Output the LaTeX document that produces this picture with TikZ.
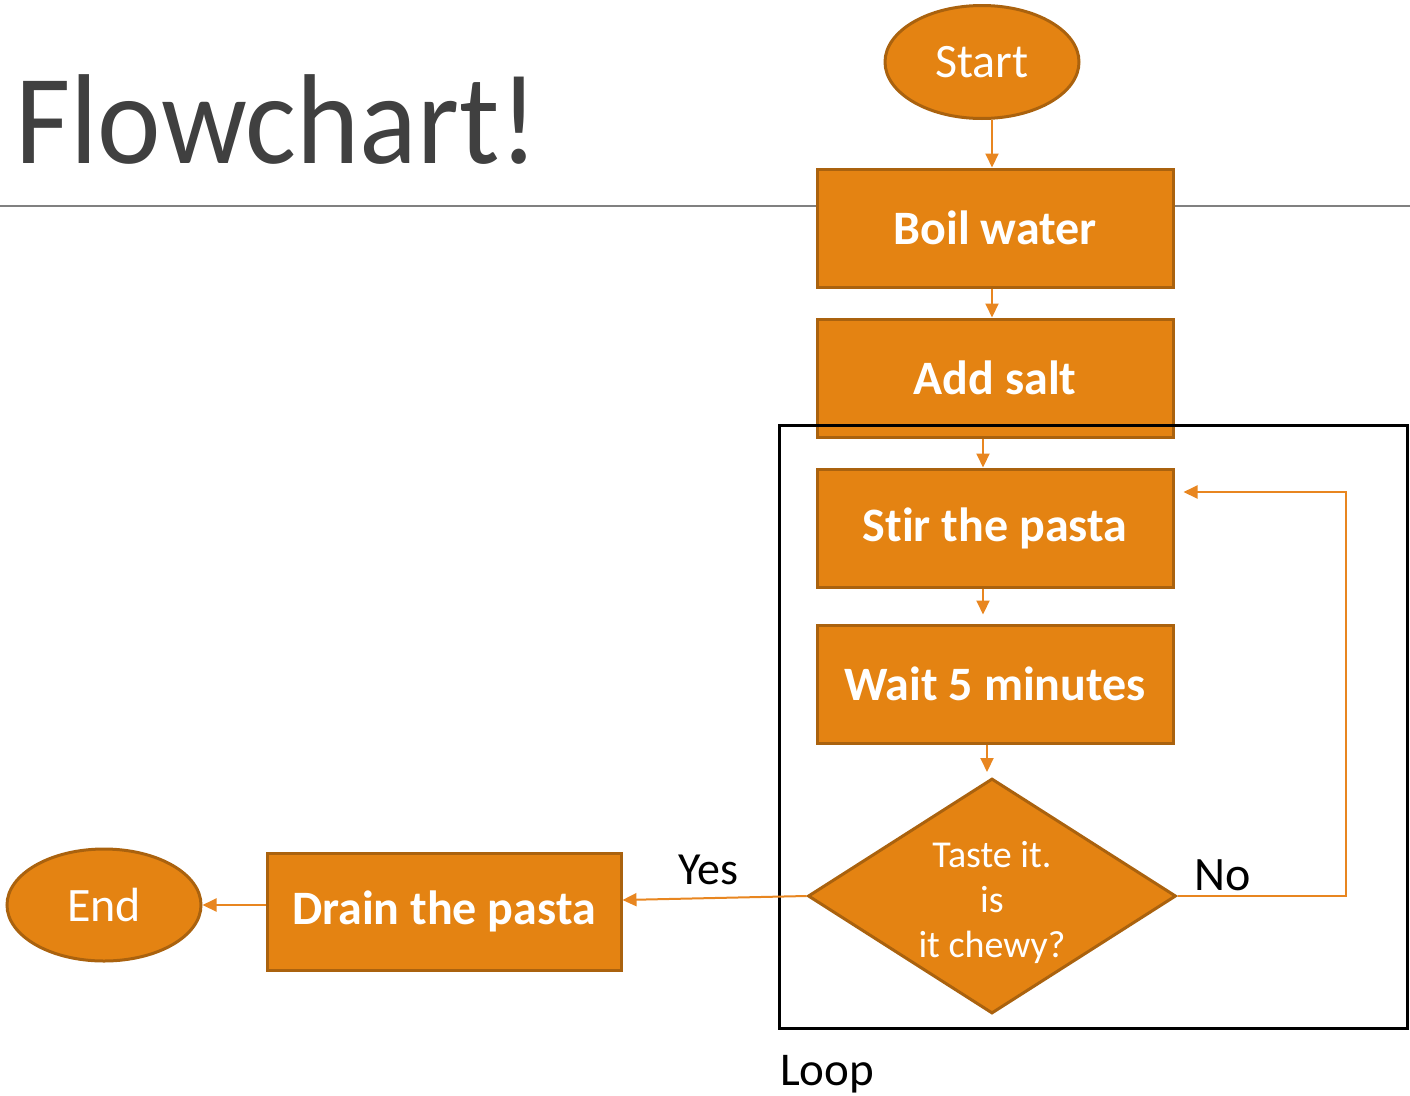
\documentclass[tikz,border=0pt]{standalone}
\usepackage{fontspec}
\setmainfont{Carlito}[Ligatures=NoCommon]
\newfontfamily\titlefont{Carlito}[FakeStretch=0.94,Ligatures=NoCommon]
\usetikzlibrary{shapes.geometric,arrows.meta,calc}
\definecolor{orfill}{RGB}{228,131,18}
\definecolor{ordraw}{RGB}{170,98,14}
\definecolor{orline}{RGB}{232,134,32}
\definecolor{titlegray}{RGB}{64,64,64}
\definecolor{rulegray}{RGB}{128,128,128}
\newcommand\fsz[2]{\fontsize{#1}{#2}\selectfont}
\tikzset{
  box/.style={rectangle, fill=orfill, draw=ordraw, line width=3pt, minimum width=356pt, minimum height=118pt, inner sep=0pt, text=white, font=\fsz{48}{56}\bfseries},
  term/.style={ellipse, fill=orfill, draw=ordraw, line width=3pt, minimum width=194pt, minimum height=113pt, inner sep=0pt, text=white, font=\fsz{48}{56}},
  decision/.style={diamond, aspect=1.566, fill=orfill, draw=ordraw, line width=3pt, minimum width=368pt, minimum height=235pt, inner sep=0pt},
  arr/.style={draw=orline, line width=2pt, -{Triangle[width=13pt,length=14pt]}},
  lbl/.style={text=black, inner sep=0pt}
}
\begin{document}
\begin{tikzpicture}[x=1pt,y=-1pt]
\useasboundingbox (0,0) rectangle (1410,1095);
% title and rule
\node[anchor=base west, inner sep=0pt, text=titlegray, font=\titlefont\fsz{128}{150}] (title) at (15,163) {Flowchart!};
\coordinate (rl) at (0,206);
\coordinate (rr) at (1410,206);
\draw[rulegray, line width=2pt] (rl) -- (rr);
% nodes
\node[term] (start) at (982,62) {Start};
\node[box] (boil) at (995,228) {Boil water};
\node[box] (salt) at (995,378) {Add salt};
\node[box] (stir) at (995,528) {Stir the pasta};
\node[box] (wait) at (995,684) {Wait 5 minutes};
\node[decision] (dia) at (992,896) {};
\node[text=white, align=center, inner sep=0pt, font=\fsz{38}{45}] (diatext) at (992,902) {Taste it.\\is\\it chewy?};
\node[box, minimum width=354pt, minimum height=117pt] (drain) at (444,911.5) {Drain the pasta};
\node[term, minimum height=112pt] (end) at (104,905) {End};
% loop box
\node[draw=black, line width=3pt, minimum width=628pt, minimum height=603pt, inner sep=0pt] (loopbox) at (1093,726.5) {};
\node[lbl, anchor=base west, font=\fsz{47}{54}] (looplbl) at (780,1085) {Loop};
% labels
\node[lbl, anchor=base west, font=\fsz{46}{54}] (yes) at (678,884) {Yes};
\node[lbl, anchor=base west, font=\fsz{48}{56}] (no) at (1194,890) {No};
% helper coordinates
\coordinate (c1) at (992,0);
\coordinate (c2) at (983,0);
\coordinate (c3) at (987,0);
\coordinate (lt) at (1346,492);
\coordinate (yl) at (0,900);
% connectors
\draw[arr] (start.south -| c1) -- (boil.north -| c1);
\draw[arr] (boil.south -| c1) -- (salt.north -| c1);
\draw[arr] (salt.south -| c2) -- (stir.north -| c2);
\draw[arr, shorten >=9pt] (stir.south -| c2) -- (wait.north -| c2);
\draw[arr, shorten >=5pt] (wait.south -| c3) -- (dia.north -| c3);
\draw[arr, shorten >=9pt] (dia.east) -| (lt) -- (stir.east |- lt);
\draw[arr] (dia.west) -- (drain.east |- yl);
\draw[arr] (drain.west |- end.east) -- (end.east);
\end{tikzpicture}
\end{document}
